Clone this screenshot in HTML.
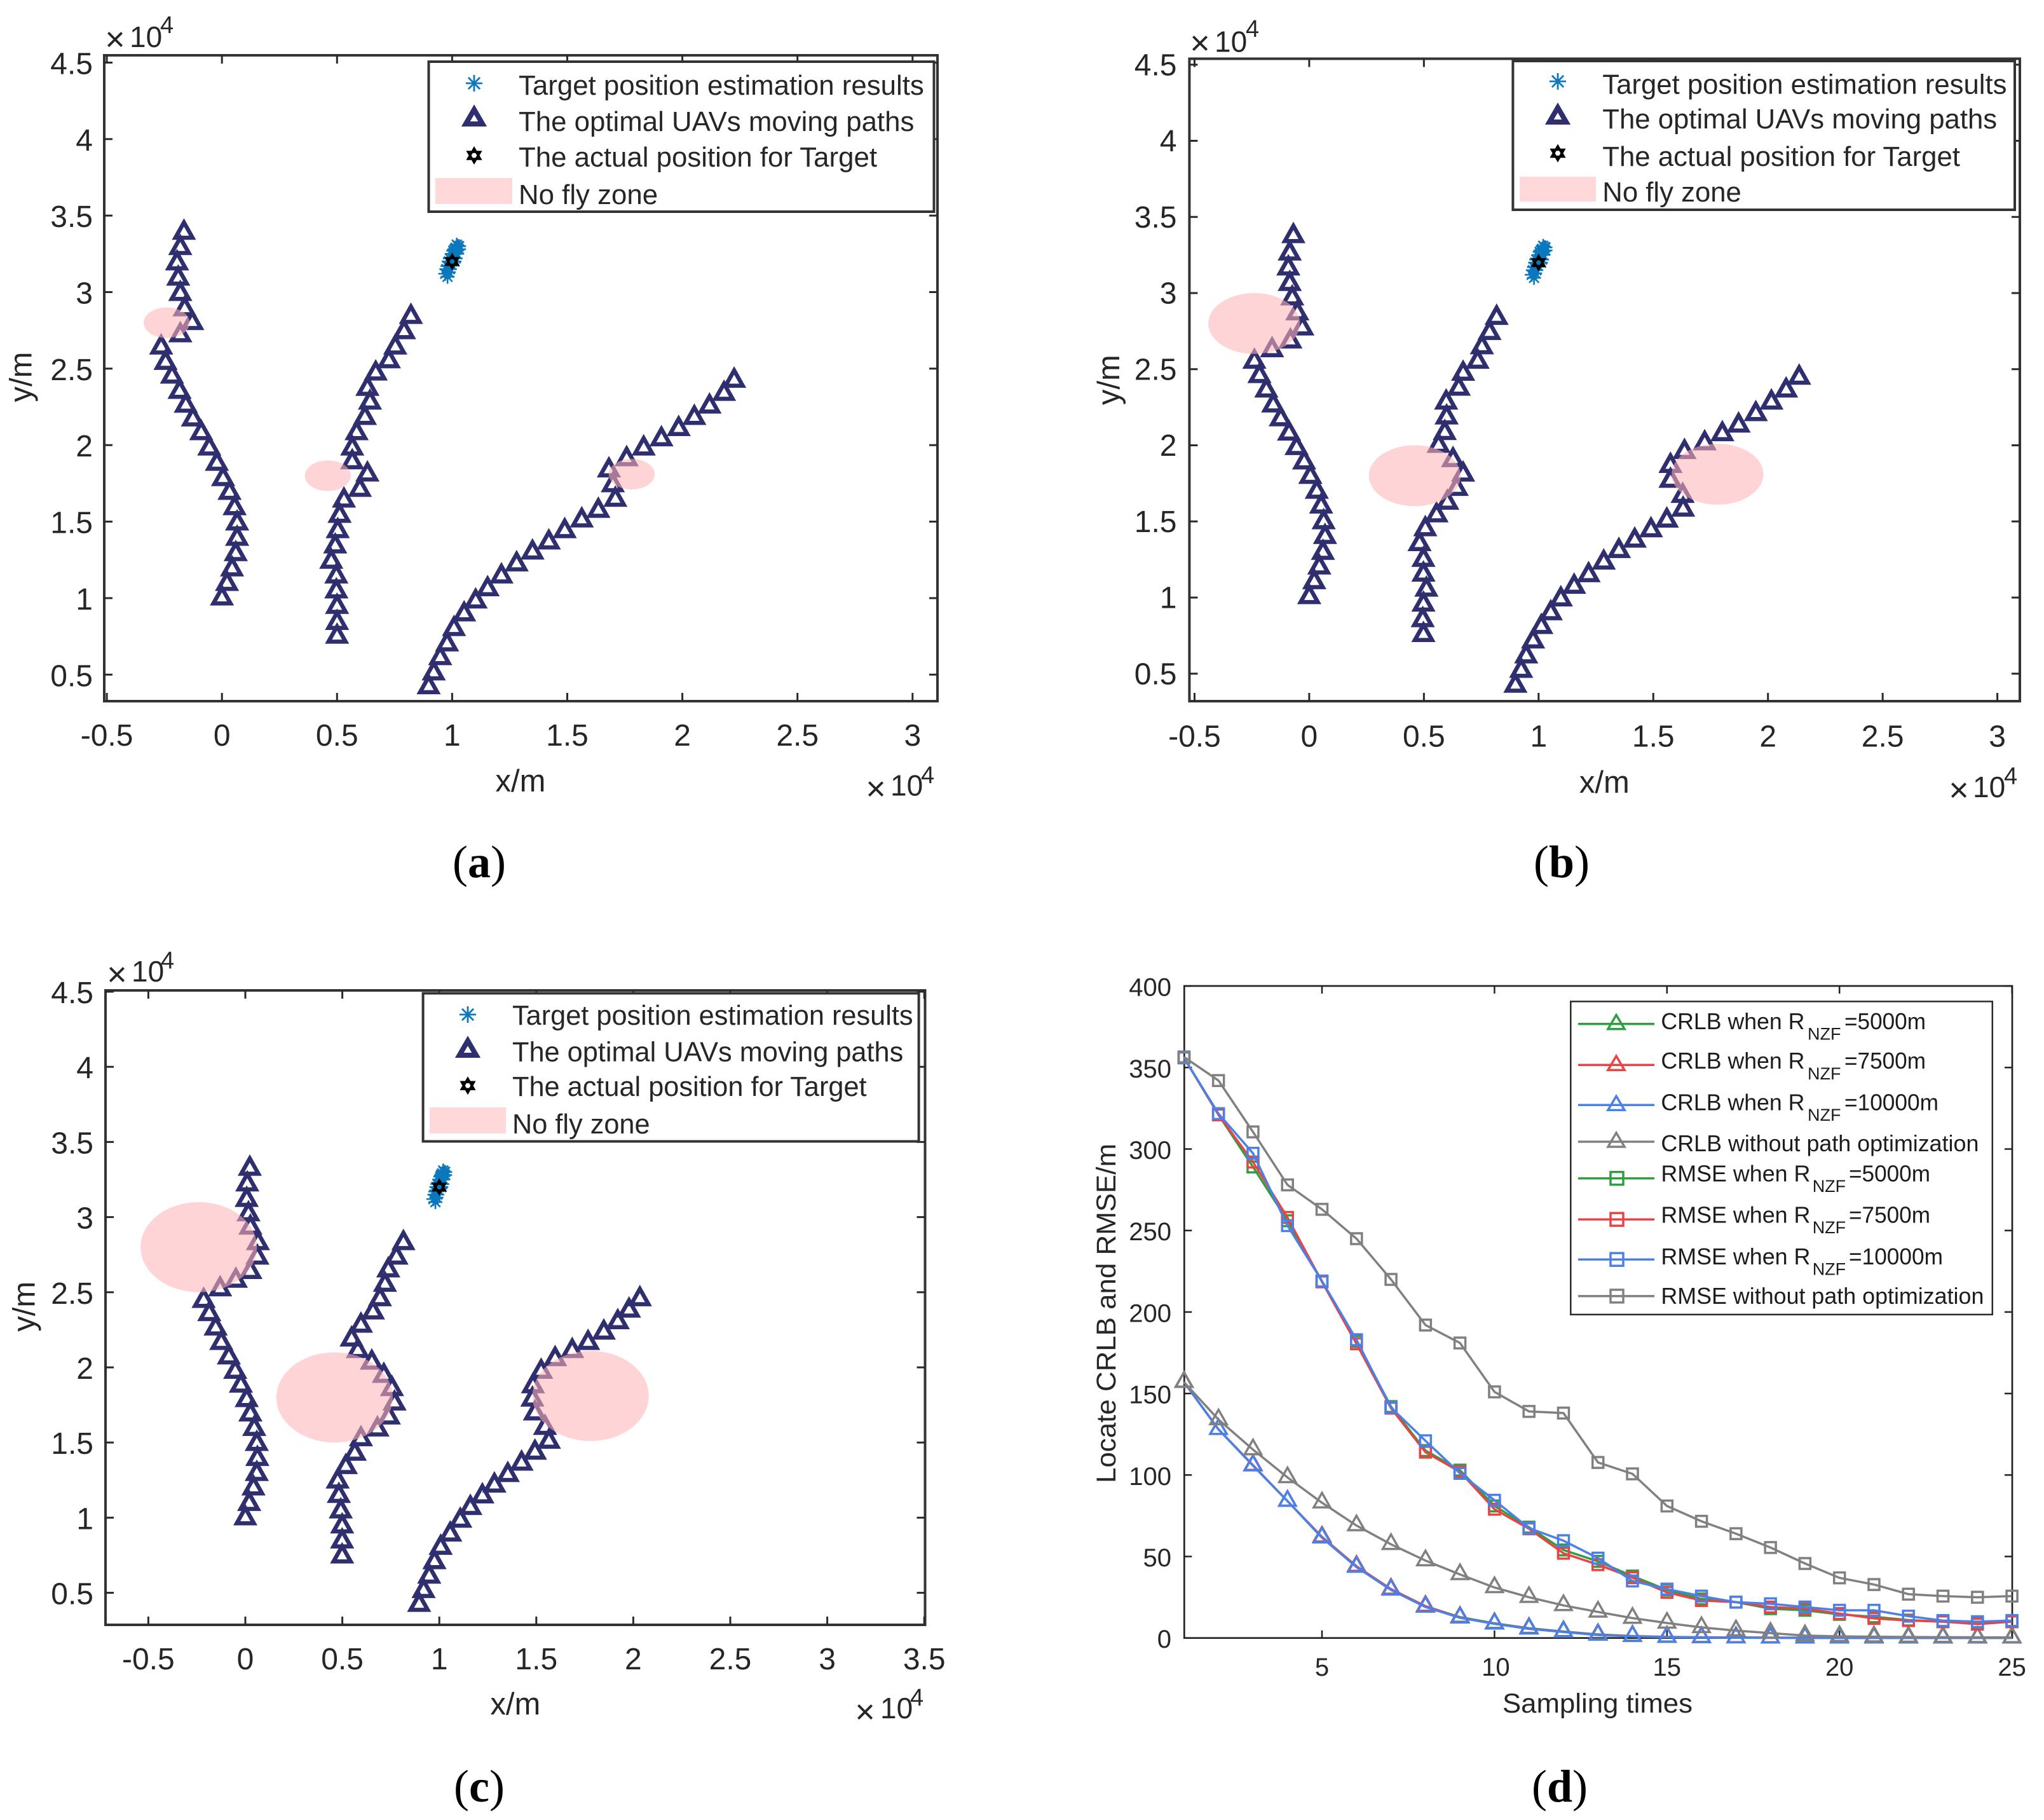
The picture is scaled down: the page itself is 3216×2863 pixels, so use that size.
<!DOCTYPE html>
<html>
<head>
<meta charset="utf-8">
<title>UAV path figure</title>
<style>
html,body{margin:0;padding:0;background:#fff}
svg{display:block}
text{font-family:"Liberation Sans",sans-serif;fill:#262626}
.lg{font-size:43.8px}
.lgd{font-size:36px;fill:#1c1c1c}
.sub{font-size:27px;fill:#1c1c1c}
.ttl{font-size:49px}
.ten{font-size:46px}
.exp{font-size:38px}
.mul{font-size:54px;font-weight:normal}
.cap{font-family:"Liberation Serif",serif;font-size:72px;fill:#000}
.cap tspan{font-weight:bold}
</style>
</head>
<body>
<svg id="figure" xmlns="http://www.w3.org/2000/svg" width="3216" height="2863" viewBox="0 0 3216 2863">
<rect x="0" y="0" width="3216" height="2863" fill="#fff"/>
<g id="layer-a"></g>
<g id="layer-b"></g>
<g id="layer-c"></g>
<g id="layer-d"></g>

<g><rect x="674.5" y="97" width="795" height="236" fill="#fff" stroke="#333" stroke-width="4"/></g>
<g><rect x="2380.4" y="96" width="789.6" height="234" fill="#fff" stroke="#333" stroke-width="4"/></g>
<g><rect x="665.6" y="1562.5" width="780" height="233" fill="#fff" stroke="#333" stroke-width="4"/></g>
<g id="legend-marks"></g>

<text class="lg" x="816" y="149">Target position estimation results</text>
<text class="lg" x="816" y="206">The optimal UAVs moving paths</text>
<text class="lg" x="816" y="262">The actual position for Target</text>
<text class="lg" x="816" y="321">No fly zone</text>

<text class="lg" style="font-size:43.7px" x="2521.3" y="147.6">Target position estimation results</text>
<text class="lg" style="font-size:43.7px" x="2521.3" y="202">The optimal UAVs moving paths</text>
<text class="lg" style="font-size:43.7px" x="2521.3" y="260.8">The actual position for Target</text>
<text class="lg" style="font-size:43.7px" x="2521.3" y="317">No fly zone</text>

<text class="lg" style="font-size:43.3px" x="806" y="1612">Target position estimation results</text>
<text class="lg" style="font-size:43.3px" x="806" y="1669.4">The optimal UAVs moving paths</text>
<text class="lg" style="font-size:43.3px" x="806" y="1724">The actual position for Target</text>
<text class="lg" style="font-size:43.3px" x="806" y="1783">No fly zone</text>

<text class="ttl" x="819" y="1245" text-anchor="middle">x/m</text>
<text class="ttl" transform="translate(49.7 593) rotate(-90)" text-anchor="middle">y/m</text>
<text class="ttl" x="2524.3" y="1247" text-anchor="middle">x/m</text>
<text class="ttl" transform="translate(1761 597.7) rotate(-90)" text-anchor="middle">y/m</text>
<text class="ttl" x="810.8" y="2697" text-anchor="middle">x/m</text>
<text class="ttl" transform="translate(54.7 2055.3) rotate(-90)" text-anchor="middle">y/m</text>

<g><text class="mul" x="181" y="80" text-anchor="middle">×</text><text class="ten" x="204" y="74">10</text><text class="exp" x="252" y="52">4</text></g>
<g><text class="mul" x="1378" y="1259" text-anchor="middle">×</text><text class="ten" x="1401" y="1251.5">10</text><text class="exp" x="1449" y="1232">4</text></g>
<g><text class="mul" x="1888" y="86" text-anchor="middle">×</text><text class="ten" x="1911" y="81.5">10</text><text class="exp" x="1960" y="58">4</text></g>
<g><text class="mul" x="3082" y="1261" text-anchor="middle">×</text><text class="ten" x="3104" y="1254">10</text><text class="exp" x="3153" y="1233.6">4</text></g>
<g><text class="mul" x="184" y="1551" text-anchor="middle">×</text><text class="ten" x="207" y="1544">10</text><text class="exp" x="253" y="1523.7">4</text></g>
<g><text class="mul" x="1361" y="2711" text-anchor="middle">×</text><text class="ten" x="1385" y="2703">10</text><text class="exp" x="1432" y="2683">4</text></g>

<text class="cap" x="754" y="1380" text-anchor="middle">(<tspan>a</tspan>)</text>
<text class="cap" x="2457" y="1380" text-anchor="middle">(<tspan>b</tspan>)</text>
<text class="cap" x="754" y="2834" text-anchor="middle">(<tspan>c</tspan>)</text>
<text class="cap" x="2454" y="2834" text-anchor="middle">(<tspan>d</tspan>)</text>

<text transform="translate(1755 2333) rotate(-90)" font-size="43" textLength="534" lengthAdjust="spacingAndGlyphs">Locate CRLB and RMSE/m</text>
<text x="2364" y="2694" font-size="43" textLength="299" lengthAdjust="spacingAndGlyphs">Sampling times</text>

<g>
<rect x="2471.3" y="1575.4" width="663.5" height="492.5" fill="#fff" stroke="#2a2a2a" stroke-width="2.5"/>
<g><text class="lgd" x="2613.4" y="1619" textLength="226" lengthAdjust="spacingAndGlyphs">CRLB when R</text><text class="sub" x="2844" y="1635.5">NZF</text><text class="lgd" x="2902" y="1619" textLength="128" lengthAdjust="spacingAndGlyphs">=5000m</text></g>
<g><text class="lgd" x="2613.4" y="1681" textLength="226" lengthAdjust="spacingAndGlyphs">CRLB when R</text><text class="sub" x="2844" y="1698">NZF</text><text class="lgd" x="2902" y="1681" textLength="128" lengthAdjust="spacingAndGlyphs">=7500m</text></g>
<g><text class="lgd" x="2613.4" y="1746.6" textLength="226" lengthAdjust="spacingAndGlyphs">CRLB when R</text><text class="sub" x="2844" y="1763">NZF</text><text class="lgd" x="2902" y="1746.6" textLength="148" lengthAdjust="spacingAndGlyphs">=10000m</text></g>
<g><text class="lgd" x="2613.4" y="1811" textLength="500" lengthAdjust="spacingAndGlyphs">CRLB without path optimization</text></g>
<g><text class="lgd" x="2613.4" y="1858.5" textLength="235" lengthAdjust="spacingAndGlyphs">RMSE when R</text><text class="sub" x="2851.7" y="1875">NZF</text><text class="lgd" x="2909" y="1858.5" textLength="128" lengthAdjust="spacingAndGlyphs">=5000m</text></g>
<g><text class="lgd" x="2613.4" y="1923.6" textLength="235" lengthAdjust="spacingAndGlyphs">RMSE when R</text><text class="sub" x="2851.7" y="1940">NZF</text><text class="lgd" x="2909" y="1923.6" textLength="128" lengthAdjust="spacingAndGlyphs">=7500m</text></g>
<g><text class="lgd" x="2613.4" y="1989" textLength="235" lengthAdjust="spacingAndGlyphs">RMSE when R</text><text class="sub" x="2851.7" y="2005.7">NZF</text><text class="lgd" x="2909" y="1989" textLength="148" lengthAdjust="spacingAndGlyphs">=10000m</text></g>
<g><text class="lgd" x="2613.4" y="2051" textLength="508" lengthAdjust="spacingAndGlyphs">RMSE without path optimization</text></g>
</g>
<g id="legend-d-marks"></g>
</svg>

<script>
/* ---------- data, panel paths in units of 1e4 m ---------- */
const panelAPathLeft = [[0,1.01],[.022,1.105],[.044,1.2],[.06,1.3],[.066,1.4],[.066,1.5],[.055,1.6],[.033,1.7],[.005,1.79],[-.022,1.89],[-.055,1.99],[-.09,2.09],[-.126,2.18],[-.157,2.27],[-.184,2.36],[-.217,2.46],[-.245,2.55],[-.264,2.65],[-.181,2.73],[-.129,2.81],[-.162,2.9],[-.181,3],[-.19,3.1],[-.195,3.2],[-.181,3.3],[-.165,3.4]];
const panelAPathMiddle = [[.5,.76],[.5,.85],[.5,.955],[.497,1.056],[.497,1.154],[.475,1.25],[.492,1.35],[.503,1.45],[.511,1.55],[.53,1.65],[.599,1.72],[.632,1.82],[.566,1.9],[.566,1.99],[.585,2.09],[.621,2.19],[.643,2.29],[.632,2.38],[.668,2.48],[.725,2.56],[.753,2.65],[.791,2.75],[.821,2.85]];
const panelAPathRight = [[.898,.43],[.92,.52],[.948,.62],[.978,.71],[1.008,.81],[1.052,.906],[1.102,.99],[1.154,1.07],[1.214,1.154],[1.28,1.233],[1.349,1.31],[1.42,1.376],[1.489,1.45],[1.563,1.52],[1.635,1.583],[1.709,1.655],[1.698,1.75],[1.681,1.847],[1.758,1.92],[1.832,1.99],[1.909,2.05],[1.984,2.117],[2.052,2.19],[2.118,2.264],[2.181,2.347],[2.225,2.433]];

const panelBPathLeft = [[0,1.015],[.022,1.113],[.044,1.21],[.06,1.306],[.069,1.41],[.063,1.507],[.052,1.61],[.033,1.707],[.005,1.805],[-.022,1.9],[-.055,1.994],[-.088,2.089],[-.124,2.183],[-.157,2.274],[-.187,2.372],[-.217,2.467],[-.239,2.561],[-.162,2.637],[-.082,2.694],[-.03,2.78],[-.052,2.879],[-.074,2.977],[-.085,3.072],[-.091,3.174],[-.085,3.272],[-.069,3.386]];
const panelBPathMiddle = [[.498,.766],[.495,.864],[.498,.966],[.511,1.064],[.498,1.163],[.498,1.26],[.481,1.363],[.506,1.461],[.555,1.552],[.602,1.635],[.643,1.726],[.671,1.82],[.627,1.915],[.564,2.009],[.591,2.093],[.599,2.195],[.597,2.293],[.652,2.384],[.671,2.482],[.734,2.561],[.753,2.656],[.786,2.75],[.817,2.849]];
const panelBPathRight = [[.899,.433],[.924,.531],[.946,.626],[.976,.724],[1.012,.819],[1.053,.909],[1.097,1],[1.155,1.083],[1.218,1.159],[1.284,1.242],[1.35,1.318],[1.419,1.386],[1.49,1.454],[1.559,1.518],[1.63,1.59],[1.628,1.68],[1.575,1.779],[1.575,1.877],[1.636,1.968],[1.724,2.025],[1.801,2.085],[1.872,2.142],[1.947,2.217],[2.015,2.293],[2.079,2.372],[2.136,2.456]];

const panelCPathLeft = [[0,1.008],[.02,1.104],[.042,1.207],[.059,1.303],[.062,1.403],[.059,1.503],[.046,1.603],[.026,1.699],[.007,1.795],[-.023,1.891],[-.052,1.983],[-.085,2.079],[-.124,2.175],[-.153,2.271],[-.186,2.367],[-.215,2.455],[-.13,2.532],[-.049,2.589],[.026,2.647],[.062,2.743],[.065,2.839],[.026,2.942],[.016,3.031],[.007,3.127],[.01,3.23],[.023,3.334]];
const panelCPathMiddle = [[.499,.754],[.499,.854],[.499,.954],[.492,1.054],[.482,1.157],[.476,1.253],[.518,1.349],[.564,1.438],[.596,1.534],[.681,1.599],[.74,1.679],[.769,1.772],[.756,1.868],[.714,1.956],[.652,2.044],[.58,2.121],[.548,2.198],[.596,2.29],[.658,2.378],[.694,2.466],[.72,2.562],[.737,2.658],[.779,2.743],[.815,2.839]];
const panelCPathRight = [[.896,.432],[.919,.524],[.948,.62],[.975,.716],[1.007,.812],[1.056,.9],[1.108,.992],[1.16,1.077],[1.222,1.154],[1.284,1.226],[1.353,1.296],[1.424,1.372],[1.493,1.445],[1.565,1.518],[1.545,1.61],[1.493,1.706],[1.48,1.798],[1.483,1.887],[1.525,1.983],[1.597,2.067],[1.685,2.121],[1.767,2.175],[1.848,2.244],[1.92,2.313],[1.978,2.39],[2.034,2.466]];

const estimateValues = [[.98,3.1],[.97,3.12],[.985,3.13],[.975,3.15],[.99,3.15],[.98,3.17],[.995,3.18],[.985,3.2],[1,3.2],[1.01,3.2],[.99,3.22],[1.005,3.23],[1.015,3.22],[1,3.25],[1.01,3.25],[1.02,3.25],[1.005,3.27],[1.02,3.28],[1.03,3.28],[1.015,3.29],[1.025,3.3],[1.01,3.28],[1.03,3.3],[1.02,3.31]];
const actualTarget = [1,3.2];
const zoneCentres = [[-.24,2.8],[.46,1.8],[1.78,1.81]];
const zoneRadiusA = 0.1;
const zoneRadiusB = 0.2;
const zoneRadiusC = 0.3;

const xTicksAB = [-.5,0,.5,1,1.5,2,2.5,3];
const xTickLabelsAB = ['-0.5','0','0.5','1','1.5','2','2.5','3'];
const xTicksC = [-.5,0,.5,1,1.5,2,2.5,3,3.5];
const xTickLabelsC = ['-0.5','0','0.5','1','1.5','2','2.5','3','3.5'];
const yTicks = [.5,1,1.5,2,2.5,3,3.5,4,4.5];
const yTickLabels = ['0.5','1','1.5','2','2.5','3','3.5','4','4.5'];

/* ---------- data, panel d ---------- */
const samplingTimes = [1,2,3,4,5,6,7,8,9,10,11,12,13,14,15,16,17,18,19,20,21,22,23,24,25];
const crlb5000 = [157,128,106,84,62,44,30,19.5,12.8,9,6,4,2.2,1.2,.7,.4,.3,.2,.2,.1,.1,.1,.1,.1,.1];
const crlb7500 = [157,128,106,84,62,44,30,19.5,12.6,8.8,5.8,3.8,2,1.1,.6,.4,.3,.2,.1,.1,.1,.1,.1,.1,.1];
const crlb10000 = [157,128,105.7,84,61.5,43.5,29.5,19,12.4,8.7,5.6,3.7,1.8,1,.5,.3,.2,.1,.1,.1,.1,.1,.1,.1,.1];
const crlbNoOpt = [157,134,115.6,98.5,83,69,57.5,47.5,39,31,25,20,16,12.2,9.2,6.5,4.5,3,1.5,1,.8,.6,.5,.4,.3];
const rmse5000 = [356,321,289,256,219,182,142,115,103,81,68,54,47,38,29.5,24,22,18,17,14.5,13,11,10,9,10];
const rmse7500 = [356,321,292,258,218.5,180.5,141,114,102,79,67,52,45,37,28,23,22,19,18,15,12,10.7,10,8.5,10];
const rmse10000 = [356,321.7,297.4,253,219,183,141.4,121,101,84.5,67.4,59.7,49,35,30,25.7,22,21,19,17,17,13.4,10.7,10,10.7];
const rmseNoOpt = [356.5,342,310.5,278,263,245,220,192,181,151,139,138,107.7,100.7,81,71.6,64,55.5,45.7,36.9,32.8,26.9,25.7,25,25.7];
const dXTicks = [5,10,15,20,25];
const dXTickLabels = ['5','10','15','20','25'];
const dYTicks = [0,50,100,150,200,250,300,350,400];
const dYTickLabels = ['0','50','100','150','200','250','300','350','400'];

/* ---------- helpers ---------- */
const NS = 'http://www.w3.org/2000/svg';
function el(parent, tag, attrs, txt){
  const n = document.createElementNS(NS, tag);
  for (const k in attrs) n.setAttribute(k, attrs[k]);
  if (txt !== undefined) n.textContent = txt;
  parent.appendChild(n);
  return n;
}
const navy = '#2f2e6e';
const estBlue = '#0b78bd';
function triPts(x,y,hw,up,down){ return (x-hw)+','+(y+down)+' '+(x+hw)+','+(y+down)+' '+x+','+(y-up); }
function drawTriangle(parent,x,y,hw,up,down,color,sw,name){
  const m = el(parent,'polygon',{points:triPts(x,y,hw,up,down),fill:'none',stroke:color,'stroke-width':sw,'stroke-linejoin':'miter'});
  
  
}
function drawAsterisk(parent,x,y,r,sw,name){
  const g = el(parent,'g',{stroke:estBlue,'stroke-width':sw});
  
  
  el(g,'line',{x1:x-r,y1:y,x2:x+r,y2:y});
  el(g,'line',{x1:x,y1:y-r,x2:x,y2:y+r});
  el(g,'line',{x1:x-r*.7,y1:y-r*.7,x2:x+r*.7,y2:y+r*.7});
  el(g,'line',{x1:x-r*.7,y1:y+r*.7,x2:x+r*.7,y2:y-r*.7});
}
function drawHexagram(parent,x,y,r,name){
  const g = el(parent,'g',{stroke:'#000','stroke-width':3.5,fill:'none'});
  
  
  el(g,'polygon',{points:triPts(x,y,r*.87,r,r*.5)});
  el(g,'polygon',{points:(x-r*.87)+','+(y-r*.5)+' '+(x+r*.87)+','+(y-r*.5)+' '+x+','+(y+r)});
}

/* ---------- panels a, b, c ---------- */
const panelLayouts = [
 {id:'a',x0:349.2,xu:362.2,y1:940.9,yu:240.7,L:164,R:1475,T:87,B:1103,xt:xTicksAB,xl:xTickLabelsAB,yLabelX:146,yLabelDy:18,xLabelY:1173,r:zoneRadiusA,paths:[panelAPathLeft,panelAPathMiddle,panelAPathRight],legendX:746,legendY:[131,184,244.5],rect:[685,280,121,41]},
 {id:'b',x0:2059.9,xu:360.9,y1:940,yu:239.5,L:1871.4,R:3178,T:92.4,B:1103,xt:xTicksAB,xl:xTickLabelsAB,yLabelX:1851.5,yLabelDy:16.5,xLabelY:1174.5,r:zoneRadiusB,paths:[panelBPathLeft,panelBPathMiddle,panelBPathRight],legendX:2451,legendY:[128,181,241],rect:[2391,278,120,39]},
 {id:'c',x0:386,xu:305.2,y1:2387.4,yu:236.4,L:166,R:1455.5,T:1558,B:2556,xt:xTicksC,xl:xTickLabelsC,yLabelX:147,yLabelDy:18,xLabelY:2626,r:zoneRadiusC,paths:[panelCPathLeft,panelCPathMiddle,panelCPathRight],legendX:736,legendY:[1596,1649,1707.7],rect:[676,1742,120,41]}
];
const legendMarks = document.getElementById('legend-marks');

panelLayouts.forEach(function(p){
  const g = document.getElementById('layer-'+p.id);
  const X = function(v){ return p.x0 + v*p.xu; };
  const Y = function(v){ return p.y1 - (v-1)*p.yu; };

  const frame = el(g,'rect',{x:p.L,y:p.T,width:p.R-p.L,height:p.B-p.T,fill:'#fff',stroke:'#333','stroke-width':4});
  
  

  p.xt.forEach(function(v,i){
    const x = X(v);
    const t1 = el(g,'line',{x1:x,y1:p.B,x2:x,y2:p.B-13,stroke:'#2a2a2a','stroke-width':3});
    
    
    el(g,'line',{x1:x,y1:p.T,x2:x,y2:p.T+13,stroke:'#2a2a2a','stroke-width':3});
    const lab = el(g,'text',{x:x,y:p.xLabelY,'text-anchor':'middle','font-size':48},p.xl[i]);
    
    
  });
  yTicks.forEach(function(v,i){
    const y = Y(v);
    const t1 = el(g,'line',{x1:p.L,y1:y,x2:p.L+13,y2:y,stroke:'#2a2a2a','stroke-width':3});
    
    
    el(g,'line',{x1:p.R,y1:y,x2:p.R-13,y2:y,stroke:'#2a2a2a','stroke-width':3});
    const lab = el(g,'text',{x:p.yLabelX,y:y+p.yLabelDy,'text-anchor':'end','font-size':48},yTickLabels[i]);
    
    
  });

  p.paths.forEach(function(path){
    path.forEach(function(pt){
      drawTriangle(g,X(pt[0]),Y(pt[1]),13.5,13.3,10.75,navy,6.5,'uav-path-marker');
    });
  });
  estimateValues.forEach(function(pt){
    drawAsterisk(g,X(pt[0]),Y(pt[1]),11,2.6,'target-estimate');
  });
  drawHexagram(g,X(actualTarget[0]),Y(actualTarget[1]),10.5,'actual-target');

  zoneCentres.forEach(function(c){
    const z = el(g,'ellipse',{cx:X(c[0]),cy:Y(c[1]),rx:p.r*p.xu,ry:p.r*p.yu,fill:'rgb(255,179,183)','fill-opacity':.567});
    
    
  });
});

panelLayouts.forEach(function(p){
  drawAsterisk(legendMarks,p.legendX,p.legendY[0],13,2.8,'legend-estimate-marker');
  drawTriangle(legendMarks,p.legendX,p.legendY[1],13.2,11.8,11,navy,8,'legend-path-marker');
  drawHexagram(legendMarks,p.legendX,p.legendY[2],11,'legend-actual-marker');
  const s = el(legendMarks,'rect',{x:p.rect[0],y:p.rect[1],width:p.rect[2],height:p.rect[3],fill:'#ffd8d9'});
  
  
});

/* ---------- panel d ---------- */
(function(){
  const g = document.getElementById('layer-d');
  const L = 1863.3, R = 3166, T = 1551, B = 2576.7;
  const X = function(v){ return 2080 + (v-5)*54.28; };
  const Y = function(v){ return B - v*2.564; };
  const frame = el(g,'rect',{x:L,y:T,width:R-L,height:B-T,fill:'#fff',stroke:'#222','stroke-width':2.7});
  
  
  dXTicks.forEach(function(v,i){
    const x = X(v);
    const t = el(g,'line',{x1:x,y1:B,x2:x,y2:B-12,stroke:'#222','stroke-width':2.5});
    
    
    el(g,'line',{x1:x,y1:T,x2:x,y2:T+12,stroke:'#222','stroke-width':2.5});
    const lab = el(g,'text',{x:x+(v===10?2:0),y:2636,'text-anchor':'middle','font-size':40},dXTickLabels[i]);
    
    
  });
  dYTicks.forEach(function(v,i){
    const y = Y(v);
    const t = el(g,'line',{x1:L,y1:y,x2:L+12,y2:y,stroke:'#222','stroke-width':2.5});
    
    
    el(g,'line',{x1:R,y1:y,x2:R-12,y2:y,stroke:'#222','stroke-width':2.5});
    const lab = el(g,'text',{x:1843,y:y+15.5,'text-anchor':'end','font-size':40},dYTickLabels[i]);
    
    
  });

  const green = '#2f9e3f', red = '#ea4343', blue = '#4a80e8', gray = '#808080';
  const seriesList = [
    {values:crlb5000,color:green,marker:'tri',name:'series-crlb-5000'},
    {values:crlb7500,color:red,marker:'tri',name:'series-crlb-7500'},
    {values:crlb10000,color:blue,marker:'tri',name:'series-crlb-10000'},
    {values:crlbNoOpt,color:gray,marker:'tri',name:'series-crlb-no-optimization'},
    {values:rmse5000,color:green,marker:'sq',name:'series-rmse-5000'},
    {values:rmse7500,color:red,marker:'sq',name:'series-rmse-7500'},
    {values:rmse10000,color:blue,marker:'sq',name:'series-rmse-10000'},
    {values:rmseNoOpt,color:gray,marker:'sq',name:'series-rmse-no-optimization'}
  ];
  seriesList.forEach(function(s){
    const sg = el(g,'g',{});
    
    
    const pts = s.values.map(function(v,i){ return X(samplingTimes[i])+','+Y(v); }).join(' ');
    el(sg,'polyline',{points:pts,fill:'none',stroke:s.color,'stroke-width':3.5});
    s.values.forEach(function(v,i){
      const x = X(samplingTimes[i]), y = Y(v);
      if (s.marker === 'tri') {
        drawTriangle(sg,x,y,13,15.5,7.3,s.color,3.5,'crlb-marker');
      } else {
        const m = el(sg,'rect',{x:x-8.5,y:y-8.5,width:17,height:17,fill:'none',stroke:s.color,'stroke-width':3.5});
        
        
      }
    });
  });

  const lm = document.getElementById('legend-d-marks');
  const rowY = [1610.7,1675.3,1738.3,1796,1853.6,1918.2,1981.2,2038.9];
  seriesList.forEach(function(s,i){
    const ln = el(lm,'line',{x1:2483,y1:rowY[i],x2:2603,y2:rowY[i],stroke:s.color,'stroke-width':3.5});
    
    
    if (s.marker === 'tri') {
      drawTriangle(lm,2543,rowY[i],13,14,8,s.color,3.5,'legend-crlb-marker');
    } else {
      const m = el(lm,'rect',{x:2534,y:rowY[i]-10,width:20,height:20,fill:'none',stroke:s.color,'stroke-width':3.5});
      
      
    }
  });
})();
</script>
</body>
</html>
